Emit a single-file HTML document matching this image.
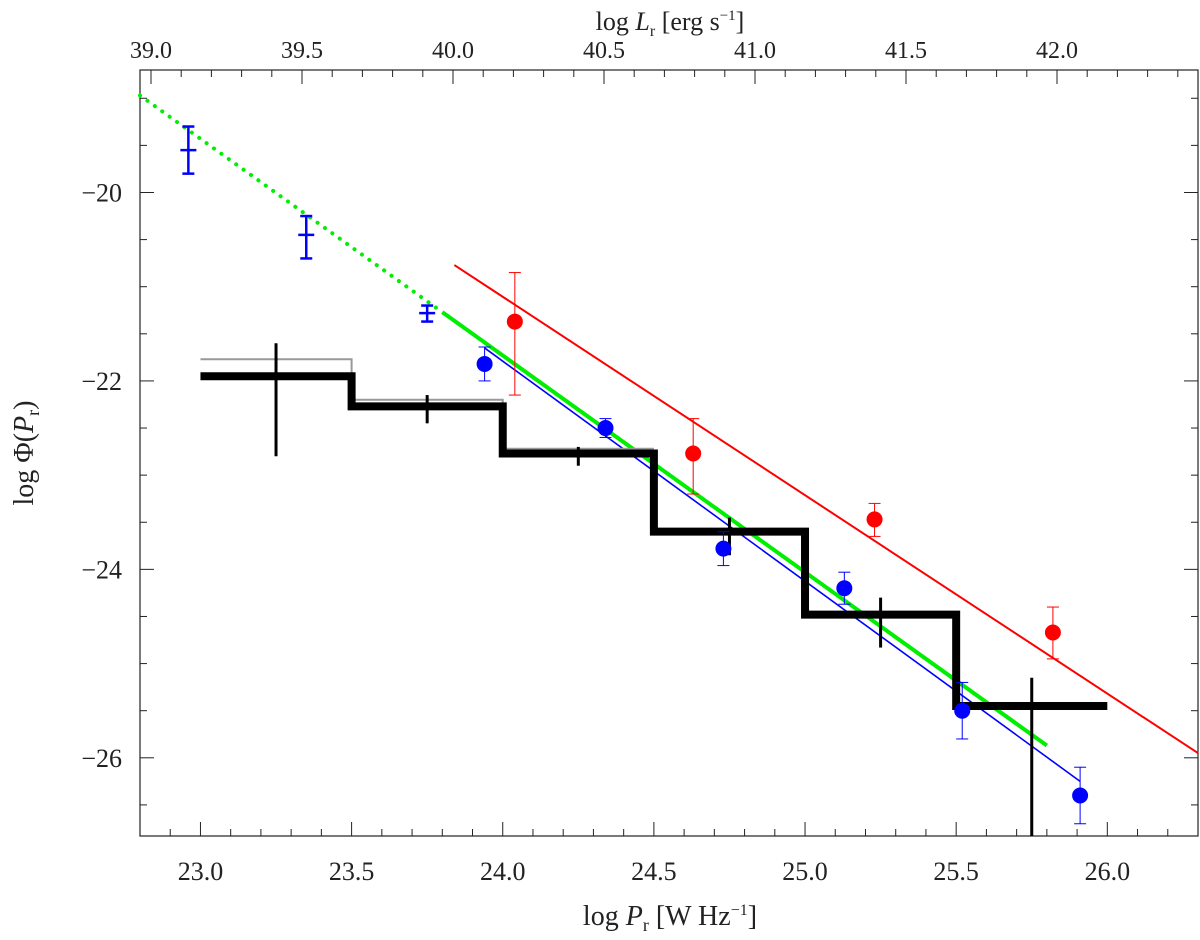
<!DOCTYPE html>
<html><head><meta charset="utf-8"><style>
body{margin:0;background:#fff}
svg text{font-family:"Liberation Serif",serif;fill:#222}
</style></head><body>
<svg id="chart" width="1200" height="935" xmlns="http://www.w3.org/2000/svg"></svg>
<script>
// ---- data ----
const xTicks=[23.0,23.5,24.0,24.5,25.0,25.5,26.0];
const yTicks=[-20,-22,-24,-26];
const topTicks=[39.0,39.5,40.0,40.5,41.0,41.5,42.0];
const blueBarX=[22.96,23.35,23.75];
const blueBarY=[-19.55,-20.45,-21.28];
const blueBarHi=[-19.3,-20.25,-21.2];
const blueBarLo=[-19.8,-20.7,-21.37];
const blueX=[23.94,24.34,24.73,25.13,25.52,25.91];
const blueY=[-21.82,-22.5,-23.78,-24.2,-25.5,-26.4];
const blueErr=[0.18,0.1,0.18,0.17,0.3,0.3];
const redX=[24.04,24.63,25.23,25.82];
const redY=[-21.37,-22.77,-23.47,-24.67];
const redHi=[-20.85,-22.4,-23.3,-24.4];
const redLo=[-22.15,-23.2,-23.65,-24.95];
const redLine=[[23.84,-20.77],[26.3,-25.95]];
const greenLine=[[23.8,-21.27],[25.8,-25.87]];
const greenDot=[[22.8,-18.97],[23.8,-21.27]];
const blueLine=[[23.94,-21.65],[25.91,-26.25]];
const binEdges=[23.0,23.5,24.0,24.5,25.0,25.5,26.0];
const blackY=[-21.95,-22.27,-22.77,-23.6,-24.48,-25.45];
const blackHi=[-21.6,-22.15,-22.7,-23.45,-24.3,-25.15];
const blackLo=[-22.8,-22.45,-22.9,-23.85,-24.83,-26.83];
const grayY=[-21.77,-22.2,-22.72];
// ---- axes ----
const L=140,R=1198,T=70,B=836,X0=22.8,X1=26.3,Y0=-26.83,Y1=-18.7;
const sx=v=>L+(v-X0)/(X1-X0)*(R-L);
const sy=v=>B-(v-Y0)/(Y1-Y0)*(B-T);
const sL=v=>151+(v-39)*302;
const svg=document.getElementById('chart');
const NS='http://www.w3.org/2000/svg';
function mk(tag,a,name){const e=document.createElementNS(NS,tag);for(const k in a)e.setAttribute(k,a[k]);


svg.appendChild(e);return e;}
function ln(x1,y1,x2,y2,c,w,name,dash){const a={x1,y1,x2,y2,stroke:c,'stroke-width':w};if(dash){a['stroke-dasharray']=dash;a['stroke-linecap']='round';}return mk('line',a,name);}
function tx(x,y,s,size,anchor,name){const t=mk('text',{x,y,'font-size':size,'text-anchor':anchor},name);t.textContent=s;return t;}
mk('rect',{x:L,y:T,width:R-L,height:B-T,fill:'none',stroke:'#222','stroke-width':1.2},'plot-frame');
for(let v=22.8;v<=26.3+1e-6;v+=0.1){const x=sx(v);const maj=Math.abs(v*2-Math.round(v*2))<1e-6;const h=maj?14:7;
ln(x,B,x,B-h,'#222',1,'x-tick');}
xTicks.forEach(v=>tx(sx(v),880,v.toFixed(1),26,'middle','x-tick-label'));
for(let v=38.9;v<=42.6;v+=0.1){const x=sL(v);if(x>R)break;if(x<L)continue;const maj=Math.abs(v*2-Math.round(v*2))<1e-6;ln(x,T,x,T+(maj?14:7),'#222',1,'top-tick');}
topTicks.forEach(v=>tx(sL(v),58,v.toFixed(1),24,'middle','top-tick-label'));
for(let v=-26.5;v<=-19;v+=0.5){const y=sy(v);const maj=Math.abs(v%2)<1e-6;const h=maj?14:7;ln(L,y,L+h,y,'#222',1,'y-tick');ln(R,y,R-h,y,'#222',1,'y-tick-right');}
yTicks.forEach(v=>tx(122,sy(v)+9,'\u2212'+Math.abs(v),26,'end','y-tick-label'));
const xt=tx(670,925,'',28,'middle','x-axis-title');xt.innerHTML='log <tspan font-style="italic">P</tspan><tspan font-size="18" dy="6">r</tspan><tspan dy="-6"> [W Hz</tspan><tspan font-size="16" dy="-10">\u22121</tspan><tspan dy="10">]</tspan>';
const tt=tx(670,30,'',26,'middle','top-axis-title');tt.innerHTML='log <tspan font-style="italic">L</tspan><tspan font-size="16" dy="6">r</tspan><tspan dy="-6"> [erg s</tspan><tspan font-size="15" dy="-10">\u22121</tspan><tspan dy="10">]</tspan>';
const yt=mk('text',{x:0,y:0,'font-size':28,'text-anchor':'middle',transform:'translate(33,453) rotate(-90)'},'y-axis-title');yt.innerHTML='log \u03A6(<tspan font-style="italic">P</tspan><tspan font-size="18" dy="6">r</tspan><tspan dy="-6">)</tspan>';
// lines
ln(sx(redLine[0][0]),sy(redLine[0][1]),sx(redLine[1][0]),sy(redLine[1][1]),'#f00',2,'red-fit-line');
ln(sx(greenDot[0][0]),sy(greenDot[0][1]),sx(greenDot[1][0]),sy(greenDot[1][1]),'#0e0',4,'green-fit-dotted','0.1 9');
ln(sx(greenLine[0][0]),sy(greenLine[0][1]),sx(greenLine[1][0]),sy(greenLine[1][1]),'#0e0',4,'green-fit-line');
ln(sx(blueLine[0][0]),sy(blueLine[0][1]),sx(blueLine[1][0]),sy(blueLine[1][1]),'#00f',1.6,'blue-fit-line');
let gp='';grayY.forEach((y,i)=>{gp+=(i?'L':'M')+sx(binEdges[i])+','+sy(y)+'L'+sx(binEdges[i+1])+','+sy(y);});
mk('path',{d:gp,fill:'none',stroke:'#999','stroke-width':2},'gray-histogram');
let bp='';blackY.forEach((y,i)=>{bp+=(i?'L':'M')+sx(binEdges[i])+','+sy(y)+'L'+sx(binEdges[i+1])+','+sy(y);});
mk('path',{d:bp,fill:'none',stroke:'#000','stroke-width':8},'black-histogram');
blackY.forEach((y,i)=>{const x=sx((binEdges[i]+binEdges[i+1])/2);ln(x,sy(blackHi[i]),x,sy(blackLo[i]),'#000',3,'black-error-bar');});
blueBarX.forEach((v,i)=>{const x=sx(v);ln(x,sy(blueBarHi[i]),x,sy(blueBarLo[i]),'#00f',2.5,'blue-error-bar');
ln(x-6,sy(blueBarHi[i]),x+6,sy(blueBarHi[i]),'#00f',2.5,'blue-error-cap');ln(x-6,sy(blueBarLo[i]),x+6,sy(blueBarLo[i]),'#00f',2.5,'blue-error-cap');
ln(x-8,sy(blueBarY[i]),x+8,sy(blueBarY[i]),'#00f',2.5,'blue-point-mark');});
blueX.forEach((v,i)=>{const x=sx(v);const h=sy(blueY[i]+blueErr[i]),l=sy(blueY[i]-blueErr[i]);
ln(x,h,x,l,'#00f',1,'blue-dot-error');ln(x-6,h,x+6,h,'#00f',1,'blue-dot-cap');ln(x-6,l,x+6,l,'#00f',1,'blue-dot-cap');
mk('circle',{cx:x,cy:sy(blueY[i]),r:8,fill:'#00f'},'blue-point');});
redX.forEach((v,i)=>{const x=sx(v);const h=sy(redHi[i]),l=sy(redLo[i]);
ln(x,h,x,l,'#f00',1,'red-dot-error');ln(x-6,h,x+6,h,'#f00',1,'red-dot-cap');ln(x-6,l,x+6,l,'#f00',1,'red-dot-cap');
mk('circle',{cx:x,cy:sy(redY[i]),r:8,fill:'#f00'},'red-point');});
</script>
</body></html>
